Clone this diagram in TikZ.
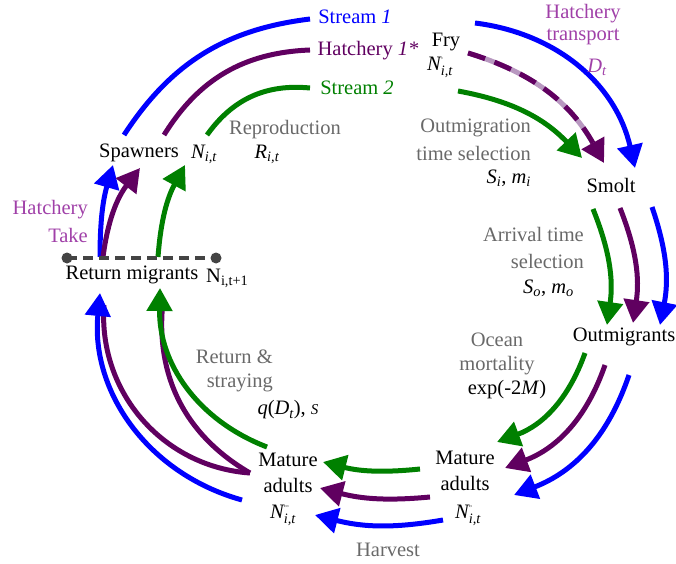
\documentclass[tikz,border=0pt]{standalone}
\usepackage{amsmath}
\usepackage{fontspec}
\setmainfont{Liberation Serif}
\usetikzlibrary{arrows.meta}
\definecolor{cblue}{RGB}{0,0,255}
\definecolor{cpurp}{RGB}{96,0,96}
\definecolor{cgreen}{RGB}{0,128,0}
\definecolor{cgray}{RGB}{105,105,105}
\definecolor{chatch}{RGB}{160,64,168}
\definecolor{clpurp}{RGB}{184,152,192}
\definecolor{cdash}{RGB}{68,68,68}
\newcommand\fsz{\fontsize{20.5}{24}\selectfont}
\newcommand\tp[1]{^{\text{\fontsize{7}{7}\selectfont #1}}}
\tikzset{
  flow/.style={line width=5pt,-{Triangle[length=23pt,width=25pt]}},
  plainline/.style={line width=5pt},
  lbl/.style={font=\fsz,inner sep=0pt},
  glbl/.style={lbl,text=cgray},
  hlbl/.style={lbl,text=chatch},
}
\begin{document}
\begin{tikzpicture}[x=1pt,y=1pt]
\useasboundingbox (0,0) rectangle (676,563);
% ---------- coordinates ----------
\coordinate (tbS) at (124,428); \coordinate (tbE) at (310,544);
\coordinate (tpS) at (164,428); \coordinate (tpE) at (310,513);
\coordinate (tgS) at (207,428); \coordinate (tgE) at (310,475);
\coordinate (rbS) at (475,540); \coordinate (rbE) at (635,395);
\coordinate (rpS) at (468,510); \coordinate (rpE) at (604,400);
\coordinate (rgS) at (458,472); \coordinate (rgE) at (582,405);
\coordinate (sgS) at (593,354); \coordinate (sgE) at (607,238);
\coordinate (spS) at (620,355); \coordinate (spE) at (633,240);
\coordinate (sbS) at (652,356); \coordinate (sbE) at (660,238);
\coordinate (ogS) at (585,210); \coordinate (ogE) at (497,121);
\coordinate (opS) at (605,198); \coordinate (opE) at (505,95);
\coordinate (obS) at (629,188); \coordinate (obE) at (514,68);
\coordinate (hgS) at (420,94); \coordinate (hgE) at (323,101);
\coordinate (hpS) at (430,66); \coordinate (hpE) at (320,75);
\coordinate (hbS) at (443,43); \coordinate (hbE) at (315,48);
\coordinate (lgS) at (267,116); \coordinate (lgE) at (160,275);
\coordinate (lpS) at (250,90);  \coordinate (lp1E) at (163,262); \coordinate (lp2E) at (104,258);
\coordinate (lbS) at (242,63);  \coordinate (lbE) at (100,270);
\coordinate (ubS) at (100,306); \coordinate (ubE) at (113,398);
\coordinate (upS) at (103,306); \coordinate (upE) at (140,395);
\coordinate (ugS) at (158,306); \coordinate (ugE) at (185,398);
\coordinate (dL) at (67,305); \coordinate (dR) at (216,305);

% ---------- connectors ----------
\draw[plainline,cblue] (tbS) to[bend left=25] (tbE);
\draw[plainline,cpurp] (tpS) to[bend left=28] (tpE);
\draw[plainline,cgreen] (tgS) to[bend left=30] (tgE);

\draw[flow,cblue] (rbS) to[bend left=35] (rbE);
\draw[plainline,clpurp,shorten >=20pt] (rpS) to[bend left=22] (rpE);
\draw[flow,cpurp,dash pattern=on 18pt off 10pt] (rpS) to[bend left=22] (rpE);
\draw[flow,cgreen] (rgS) to[bend left=18] (rgE);

\draw[flow,cgreen] (sgS) to[bend left=15] (sgE);
\draw[flow,cpurp] (spS) to[bend left=15] (spE);
\draw[flow,cblue] (sbS) to[bend left=15] (sbE);

\draw[flow,cgreen] (ogS) to[bend left=25] (ogE);
\draw[flow,cpurp] (opS) to[bend left=25] (opE);
\draw[flow,cblue] (obS) to[bend left=25] (obE);

\draw[flow,cgreen] (hgS) to[bend left=10] (hgE);
\draw[flow,cpurp] (hpS) to[bend left=10] (hpE);
\draw[flow,cblue] (hbS) to[bend left=12] (hbE);

\draw[plainline,cpurp] (lpS) to[bend left=33] (lp1E);
\draw[plainline,cpurp] (lpS) to[bend left=45] (lp2E);
\draw[flow,cgreen] (lgS) to[bend left=35] (lgE);
\draw[flow,cblue] (lbS) to[bend left=40] (lbE);

\draw[flow,cblue] (ubS) to[bend left=8] (ubE);
\draw[flow,cpurp] (upS) to[bend left=15] (upE);
\draw[flow,cgreen] (ugS) to[bend left=12] (ugE);

\draw[cdash,line width=3.5pt,dash pattern=on 10pt off 6pt] (dL) -- (dR);
\fill[cdash] (dL) circle (5.5pt);
\fill[cdash] (dR) circle (5.5pt);

% ---------- labels ----------
\node[lbl,text=cblue] (st1) at (355,546) {Stream \textit{1}};
\node[lbl,text=cpurp] (hat1) at (368,512) {Hatchery \textit{1*}};
\node[lbl,text=cgreen] (st2) at (357,475) {Stream \textit{2}};
\node[lbl] (fry) at (446,521) {Fry};
\node[lbl] (fryN) at (440,496) {$\textit{N}\tp{'}_{\textit{i,t}}$};
\node[hlbl] (ht1) at (583,549) {Hatchery};
\node[hlbl] (ht2) at (583,526) {transport};
\node[hlbl] (htD) at (597,496) {$\textit{D}_{\textit{t}}$};
\node[glbl,anchor=east] (om1) at (531,435) {Outmigration};
\node[glbl,anchor=east] (om2) at (531,410) {time selection};
\node[lbl,anchor=east] (om3) at (531,385) {$\textit{S}_{\textit{i}}$, $\textit{m}_{\textit{i}}$};
\node[lbl] (smolt) at (611,378) {Smolt};
\node[glbl,anchor=east] (ar1) at (584,329) {Arrival time};
\node[glbl,anchor=east] (ar2) at (584,302) {selection};
\node[lbl,anchor=east] (ar3) at (574,275) {$\textit{S}_{\textit{o}}$, $\textit{m}_{\textit{o}}$};
\node[lbl] (outm) at (624,226) {Outmigrants};
\node[glbl] (oc1) at (497,223) {Ocean};
\node[glbl] (oc2) at (497,197) {mortality};
\node[lbl] (oc3) at (507,173) {exp(-2\textit{M})};
\node[lbl] (ma1) at (465,105) {Mature};
\node[lbl] (ma2) at (465,80) {adults};
\node[lbl] (ma3) at (468,48) {$\textit{N}\tp{''}_{\textit{i,t}}$};
\node[lbl] (mb1) at (288,103) {Mature};
\node[lbl] (mb2) at (288,78) {adults};
\node[lbl] (mb3) at (283,48) {$\textit{N}\tp{'''}_{\textit{i,t}}$};
\node[glbl] (harv) at (388,13) {Harvest};
\node[glbl,anchor=east] (rs1) at (273,206) {Return \&};
\node[glbl,anchor=east] (rs2) at (273,180) {straying};
\node[lbl] (rs3) at (288,153) {\textit{q}(\textit{D}$_{\textit{t}}$), \textit{\fontsize{15}{15}\selectfont S}};
\node[lbl] (retm) at (132,288) {Return migrants};
\node[lbl,anchor=west] (retN) at (206,285) {$\text{N}_{\text{i,t+1}}$};
\node[hlbl,anchor=east] (hk1) at (88,353) {Hatchery};
\node[hlbl,anchor=east] (hk2) at (88,328) {Take};
\node[lbl] (spw) at (139,410) {Spawners};
\node[lbl] (spwN) at (204,409) {$\textit{N}_{\textit{i,t}}$};
\node[glbl] (repr) at (285,433) {Reproduction};
\node[lbl] (reprR) at (267,409) {$\textit{R}_{\textit{i,t}}$};
\end{tikzpicture}
\end{document}
